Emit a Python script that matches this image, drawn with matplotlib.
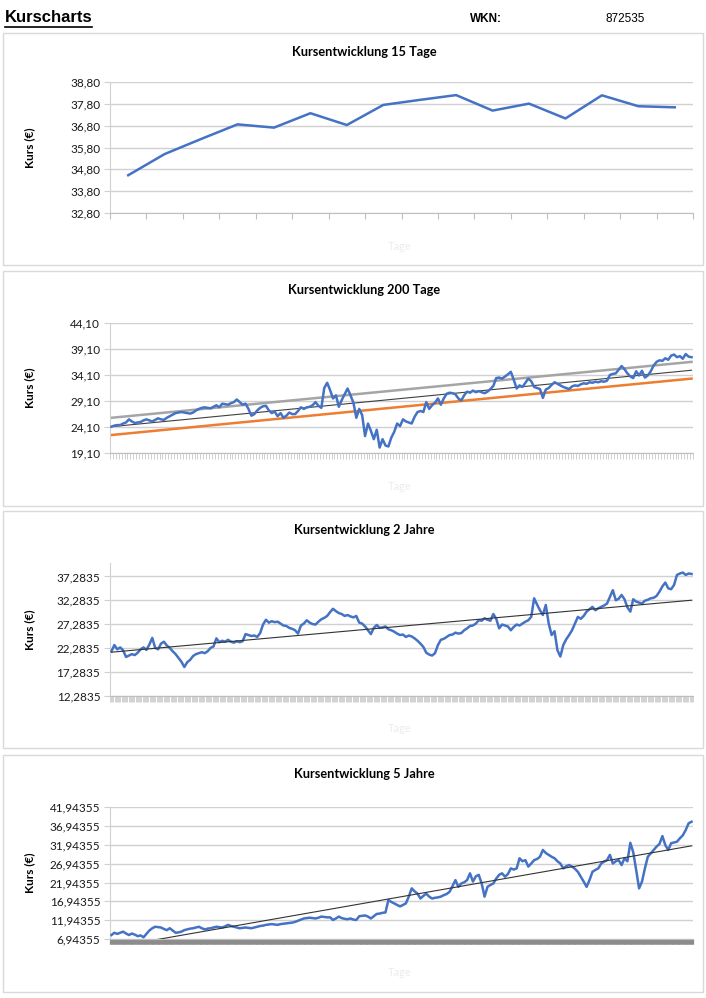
import numpy as np
import matplotlib.pyplot as plt
from matplotlib.patches import Rectangle
from matplotlib.lines import Line2D
from matplotlib.ticker import FixedLocator, FuncFormatter

plt.rcParams['font.family'] = ['Lato', 'DejaVu Sans']

W, H = 706, 998

# Kurse 15 Tage
kurs_15 = [34.53, 35.50, 36.19, 36.86, 36.71, 37.37, 36.83, 37.75,
           37.98, 38.20, 37.49, 37.81, 37.13, 38.19, 37.69, 37.64]
yticks_15 = [32.80, 33.80, 34.80, 35.80, 36.80, 37.80, 38.80]

# Kurse 200 Tage
kurs_200 = [24.2, 24.4, 24.5, 24.5, 24.8, 25.0, 25.6, 25.2, 24.9, 25.0,
            25.1, 25.4, 25.6, 25.4, 25.2, 25.5, 25.8, 25.6, 25.5, 25.9,
            26.2, 26.5, 26.8, 26.9, 27.0, 26.9, 26.8, 26.7, 26.9, 27.3,
            27.6, 27.8, 27.9, 27.8, 27.7, 28.0, 28.3, 27.9, 28.6, 28.5,
            28.4, 28.7, 28.9, 29.4, 28.9, 28.4, 28.6, 27.6, 26.3, 26.6,
            27.3, 27.8, 28.1, 28.2, 27.3, 26.8, 27.1, 26.2, 26.8, 25.9,
            26.3, 26.9, 26.6, 26.6, 27.2, 27.9, 27.6, 27.9, 28.0, 28.3,
            28.9, 28.2, 27.8, 31.6, 32.6, 31.2, 29.6, 30.2, 28.0, 29.3,
            30.4, 31.5, 30.2, 28.8, 25.9, 27.6, 26.4, 22.4, 24.8, 23.4,
            21.8, 23.6, 20.2, 21.8, 20.6, 20.4, 22.1, 23.2, 24.8, 24.3,
            25.6, 25.2, 25.0, 24.8, 26.1, 27.0, 27.2, 27.0, 28.9, 27.6,
            28.3, 28.8, 29.6, 28.4, 29.6, 30.5, 30.7, 30.6, 30.4, 29.6,
            29.2, 30.2, 30.9, 30.7, 31.1, 30.8, 31.0, 30.8, 30.6, 30.9,
            31.4, 32.0, 33.5, 33.6, 33.4, 33.8, 34.2, 34.7, 33.2, 31.5,
            32.1, 31.8, 32.6, 33.4, 32.9, 31.8, 31.6, 31.4, 29.7, 31.3,
            31.6, 32.2, 32.7, 32.4, 32.1, 31.8, 31.6, 31.4, 31.9, 32.1,
            32.0, 32.3, 32.5, 32.4, 32.7, 32.6, 32.8, 32.7, 32.9, 32.8,
            33.0, 34.1, 34.3, 34.4, 35.1, 35.8, 35.2, 34.4, 33.8, 33.5,
            34.8, 34.0, 34.9, 33.6, 34.0, 34.8, 35.9, 36.6, 36.9, 36.8,
            37.3, 37.0, 37.8, 38.0, 37.5, 37.7, 37.2, 38.1, 37.6, 37.5]
trend_200_hell = [25.9, 36.6]
trend_200_dunkel = [24.2, 35.0]
trend_200_orange = [22.6, 33.4]
yticks_200 = [19.10, 24.10, 29.10, 34.10, 39.10, 44.10]

# Kurse 2 Jahre
kurs_2j = [21.6, 22.9, 22.0, 22.4, 21.8, 20.4, 20.7, 21.0, 20.8, 21.3,
           22.0, 22.4, 21.9, 23.0, 24.4, 22.3, 22.0, 23.2, 23.6, 22.8,
           22.3, 21.6, 21.0, 20.2, 19.4, 18.3, 19.3, 19.8, 20.6, 21.0,
           21.2, 21.4, 21.2, 21.6, 22.3, 22.6, 24.3, 23.5, 23.8, 23.6,
           24.0, 23.6, 23.4, 23.7, 23.5, 23.7, 25.2, 25.0, 24.8, 24.9,
           24.6, 25.4, 27.2, 28.2, 27.6, 27.9, 27.7, 27.8, 27.4, 27.0,
           26.9, 26.5, 26.3, 26.0, 25.3, 27.0, 27.4, 28.1, 27.6, 27.3,
           27.2, 27.8, 28.3, 28.6, 29.0, 29.8, 30.5, 30.0, 29.6, 29.4,
           29.0, 29.2, 28.9, 28.7, 29.0, 27.6, 27.4, 26.8, 26.0, 25.2,
           26.5, 27.1, 26.5, 26.6, 26.8, 26.2, 26.0, 25.7, 25.3, 25.0,
           25.1, 24.6, 24.9, 24.7, 24.3, 23.8, 23.2, 22.5, 21.3, 20.9,
           20.7, 21.2, 22.9, 24.0, 24.2, 24.6, 25.0, 25.1, 25.5, 25.3,
           25.4, 26.0, 26.4, 26.9, 27.0, 27.4, 28.1, 28.0, 28.5, 28.2,
           28.0, 29.4, 28.4, 26.4, 27.2, 27.0, 26.8, 26.0, 26.7, 27.2,
           27.0, 27.4, 27.8, 28.1, 28.8, 32.7, 31.4, 30.2, 29.2, 31.3,
           27.4, 25.0, 25.8, 21.8, 20.5, 22.9, 24.1, 25.0, 26.0, 27.4,
           28.8, 28.4, 29.0, 29.9, 30.4, 30.9, 30.2, 30.6, 30.9, 31.2,
           31.6, 33.0, 34.4, 32.3, 32.6, 33.4, 32.5, 30.8, 29.9, 32.5,
           32.0, 31.8, 31.6, 32.2, 32.4, 32.7, 32.8, 33.2, 34.1, 35.2,
           36.0, 34.8, 34.6, 35.5, 37.6, 37.9, 38.1, 37.6, 37.9, 37.8]
trend_2j = [21.4, 32.3]
yticks_2j = [12.2835, 17.2835, 22.2835, 27.2835, 32.2835, 37.2835]

# Kurse 5 Jahre
kurs_5j = [8.0, 8.6, 8.3, 8.6, 8.9, 8.4, 8.0, 8.4, 8.1, 7.7,
           7.9, 7.4, 8.3, 9.2, 9.8, 10.2, 10.1, 10.0, 9.6, 9.3,
           9.8, 9.2, 8.6, 8.7, 8.9, 9.3, 9.5, 9.7, 9.8, 10.0,
           10.2, 9.8, 9.5, 9.7, 9.8, 10.0, 10.2, 10.1, 10.0, 10.3,
           10.7, 10.4, 10.2, 10.0, 9.8, 9.9, 10.0, 9.9, 9.8, 10.0,
           10.2, 10.4, 10.5, 10.7, 10.8, 10.9, 10.8, 10.7, 10.9, 11.0,
           11.1, 11.2, 11.3, 11.5, 11.8, 12.1, 12.4, 12.5, 12.6, 12.5,
           12.4, 12.6, 12.9, 12.8, 12.7, 12.7, 12.0, 12.4, 12.9, 12.5,
           12.3, 12.2, 12.4, 12.1, 12.0, 13.0, 13.1, 13.2, 12.9, 12.4,
           13.0, 13.6, 13.7, 13.9, 14.0, 17.3, 16.8, 16.4, 16.0, 15.6,
           16.0, 16.4, 18.2, 20.4, 19.6, 19.0, 17.7, 18.4, 19.0, 18.2,
           17.7, 17.9, 18.0, 18.2, 18.6, 18.9, 19.5, 21.0, 22.6, 20.8,
           21.7, 22.0, 22.6, 24.4, 22.2, 23.6, 24.0, 21.7, 18.2, 20.8,
           21.3, 21.7, 23.0, 24.0, 24.4, 23.5, 24.2, 25.7, 25.4, 25.7,
           28.4, 27.6, 27.9, 26.2, 27.0, 27.9, 28.2, 28.8, 30.6, 29.8,
           29.3, 28.8, 28.4, 27.6, 27.0, 25.7, 26.3, 26.6, 26.2, 25.6,
           24.8, 23.5, 22.2, 20.8, 22.6, 24.8, 25.3, 25.7, 27.0, 27.5,
           27.9, 29.3, 27.0, 27.6, 27.9, 26.6, 28.4, 27.6, 32.5, 30.0,
           25.3, 20.4, 22.2, 25.7, 28.8, 29.7, 30.6, 31.5, 32.2, 34.3,
           31.9, 30.6, 32.4, 32.6, 32.8, 33.7, 34.5, 35.9, 37.7, 38.1]
trend_5j = [4.67, 31.7]
yticks_5j = [6.94355, 11.94355, 16.94355, 21.94355, 26.94355, 31.94355, 36.94355, 41.94355]

BLAU = '#4472c4'
GRID = '#d0d0d0'

fig = plt.figure(figsize=(W / 100, H / 100), dpi=100)


def px_axes(l, t, r, b):
    return fig.add_axes([l / W, 1 - b / H, (r - l) / W, (b - t) / H])


def fig_text(x, y, s, **kw):
    fig.text(x / W, 1 - y / H, s, **kw)


# Kopfzeile
fig_text(5, 18, 'Kurscharts', family='Liberation Sans', weight='bold', size=12, va='center')
fig.lines.append(Line2D([5 / W, 92 / W], [1 - 27 / H, 1 - 27 / H], transform=fig.transFigure, color='black', lw=1.2))
fig_text(470, 19, 'WKN:', family='Liberation Sans', weight='bold', size=8.5, va='center')
fig_text(606, 19, '872535', family='Liberation Sans', size=8.5, va='center')


def diagramm(box, plot, titel, kurs, yticks, ylim, ndec, kat_ticks, tick_col, tick_len, tick_lw):
    t, b = box
    fig.patches.append(Rectangle((3 / W, 1 - b / H), 700 / W, (b - t) / H, transform=fig.transFigure,
                                 fill=False, ec='#d9d9d9', lw=1))
    ax = px_axes(110, plot[0], 693, plot[1])
    n = len(kurs)
    ax.plot(np.arange(n), kurs, color=BLAU, lw=1.8, solid_joinstyle='round', zorder=3)
    ax.set_xlim(-0.5, n - 0.5)
    ax.set_ylim(*ylim)
    ax.yaxis.set_major_locator(FixedLocator(yticks))
    ax.yaxis.set_major_formatter(FuncFormatter(lambda v, p: f'{v:.{ndec}f}'.replace('.', ',')))
    ax.grid(axis='y', color=GRID, lw=1)
    ax.set_axisbelow(True)
    for s in ['top', 'right']:
        ax.spines[s].set_visible(False)
    ax.spines['left'].set_color(GRID)
    ax.spines['bottom'].set_color('#bfbfbf')
    ax.set_xticks([])
    ax.xaxis.set_minor_locator(FixedLocator(np.linspace(-0.5, n - 0.5, kat_ticks + 1)))
    ax.tick_params(axis='x', which='minor', length=tick_len, width=tick_lw, color=tick_col)
    ax.tick_params(axis='y', length=4, color=GRID, labelsize=8.5, pad=3, labelcolor='#1a1a1a')
    ax.set_facecolor('none')
    mitte_y = (plot[0] + plot[1]) / 2
    fig_text(364, t + 19, titel, weight='bold', size=9.2, ha='center', va='center')
    fig_text(30, mitte_y, 'Kurs (€)', weight='bold', size=8.5, rotation=90, ha='center', va='center')
    fig_text(400, b - 19, 'Tage', size=8, color='#ececec', ha='center', va='center')
    return ax


diagramm((33, 265), (82, 213), 'Kursentwicklung 15 Tage', kurs_15, yticks_15, (32.80, 38.80), 2,
         16, '#bfbfbf', 4, 0.8)

ax2 = diagramm((271, 506), (322.7, 453.3), 'Kursentwicklung 200 Tage', kurs_200, yticks_200,
               (19.10, 44.10), 2, 200, '#c8c8c8', 4, 0.6)
x_ende = [0, len(kurs_200) - 1]
ax2.plot(x_ende, trend_200_hell, color='#a5a5a5', lw=1.8, zorder=2)
ax2.plot(x_ende, trend_200_dunkel, color='#404040', lw=0.8, zorder=2)
ax2.plot(x_ende, trend_200_orange, color='#ed7d31', lw=1.8, zorder=2)

ax3 = diagramm((511, 748), (563, 695.7), 'Kursentwicklung 2 Jahre', kurs_2j, yticks_2j,
               (12.2835, 40.1), 4, 500, '#c0c0c0', 4, 0.5)
ax3.plot([0, len(kurs_2j) - 1], trend_2j, color='#333333', lw=0.8, zorder=4)

ax4 = diagramm((755, 992), (807.3, 939), 'Kursentwicklung 5 Jahre', kurs_5j, yticks_5j,
               (6.94355, 41.94355), 5, 1250, '#8c8c8c', 3.5, 0.8)
ax4.plot([0, len(kurs_5j) - 1], trend_5j, color='#333333', lw=0.8, zorder=4)

fig.savefig('out.png', dpi=100)
